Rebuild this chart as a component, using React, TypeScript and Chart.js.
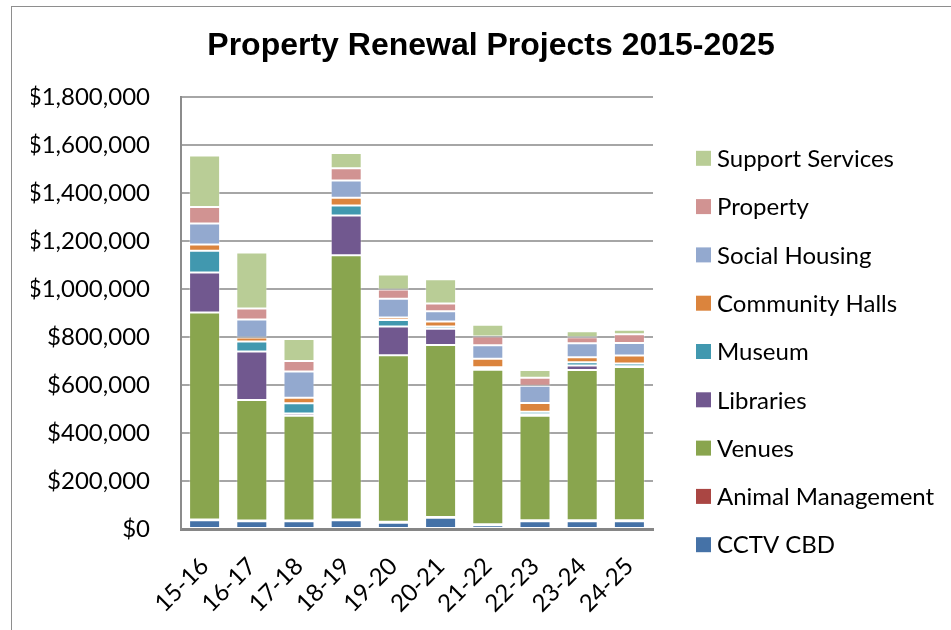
import React, { useEffect, useRef } from "react";
import { Chart, registerables } from "chart.js";

Chart.register(...registerables);

const categories = ["15-16", "16-17", "17-18", "18-19", "19-20", "20-21", "21-22", "22-23", "23-24", "24-25"];
const cctvCbd = [36000, 32000, 32000, 36000, 26000, 47000, 16000, 32000, 32000, 32000];
const animalManagement = [4000, 3000, 3000, 4000, 4000, 3000, 4000, 4000, 4000, 4000];
const venues = [863000, 503000, 437000, 1102000, 695000, 717000, 644000, 436000, 627000, 640000];
const libraries = [167000, 202000, 10000, 165000, 120000, 68000, 2000, 7000, 19000, 3000];
const museum = [90000, 42000, 42000, 42000, 27000, 10000, 9000, 10000, 13000, 11000];
const communityHalls = [26000, 17000, 23000, 33000, 10000, 20000, 35000, 37000, 21000, 34000];
const socialHousing = [88000, 75000, 110000, 71000, 78000, 43000, 56000, 71000, 59000, 52000];
const property = [69000, 46000, 44000, 52000, 39000, 32000, 37000, 34000, 25000, 36000];
const supportServices = [215000, 233000, 91000, 63000, 62000, 102000, 49000, 32000, 25000, 19000];

const yMax = 1800000;
const yStep = 200000;
const title = "Property Renewal Projects 2015-2025";

const seriesNames = [
  "CCTV CBD",
  "Animal Management",
  "Venues",
  "Libraries",
  "Museum",
  "Community Halls",
  "Social Housing",
  "Property",
  "Support Services",
];
const seriesValues = [cctvCbd, animalManagement, venues, libraries, museum, communityHalls, socialHousing, property, supportServices];
const seriesColors = ["#4572A7", "#AA4643", "#89A54E", "#71588F", "#4198AF", "#DB843D", "#93A9CF", "#D19392", "#B9CD96"];

const FONT = "Lato, 'Noto Sans', sans-serif";
const FONT_SIZE = 24;

const legendPlugin = {
  id: "customLegend",
  afterDraw(chart: any) {
    const ctx = chart.ctx;
    const ds = chart.data.datasets;
    ctx.save();
    ctx.font = `${FONT_SIZE}px ${FONT}`;
    ctx.textBaseline = "middle";
    ctx.textAlign = "left";
    for (let i = 0; i < ds.length; i++) {
      const d = ds[ds.length - 1 - i];
      const y = 158.3 + i * 48.3;
      ctx.fillStyle = d.backgroundColor;
      ctx.fillRect(696, y - 7.5, 15, 15);
      ctx.fillStyle = "#000";
      ctx.fillText(d.label, 717, y + 1);
    }
    ctx.restore();
  },
};

export default function App() {
  const ref = useRef<HTMLCanvasElement | null>(null);
  useEffect(() => {
    if (!ref.current) return;
    const chart = new Chart(ref.current, {
      type: "bar",
      data: {
        labels: categories,
        datasets: seriesNames.map((name, i) => ({
          label: name,
          data: seriesValues[i],
          backgroundColor: seriesColors[i],
          borderColor: "rgba(255,255,255,0.3)",
          borderWidth: 1,
          borderSkipped: false,
          categoryPercentage: 1,
          barPercentage: 0.657,
        })),
      },
      options: {
        responsive: false,
        animation: false,
        devicePixelRatio: 1,
        layout: { padding: { left: 31, right: 0, top: 0, bottom: 0 } },
        plugins: {
          legend: { display: false },
          tooltip: { enabled: false },
          title: {
            display: true,
            text: title,
            color: "#000",
            font: { family: "'Liberation Sans', Arial, sans-serif", size: 32, weight: "bold", lineHeight: 1.2 },
            padding: { top: 27, bottom: 32 },
          },
        },
        scales: {
          x: {
            stacked: true,
            grid: { display: false, drawTicks: false },
            border: { display: true, color: "#868686", width: 3 },
            ticks: {
              color: "#000",
              font: { family: FONT, size: FONT_SIZE },
              maxRotation: 45,
              minRotation: 45,
              padding: 23,
            },
            afterFit: (s: any) => {
              s.height = 101;
            },
          },
          y: {
            stacked: true,
            min: 0,
            max: yMax,
            grid: { color: "#a6a6a6", lineWidth: 2, drawTicks: false },
            border: { display: true, color: "#8c8c8c", width: 2 },
            ticks: {
              stepSize: yStep,
              color: "#000",
              padding: 31,
              font: { family: FONT, size: FONT_SIZE },
              callback: (v: any) => "$" + Number(v).toLocaleString("en-US"),
            },
            afterFit: (s: any) => {
              s.width = 150;
            },
          },
          yRight: {
            position: "right",
            display: true,
            grid: { display: false, drawTicks: false },
            border: { display: false },
            ticks: { display: false },
            afterFit: (s: any) => {
              s.width = 298;
            },
          },
        },
      },
      plugins: [legendPlugin],
    } as any);
    return () => chart.destroy();
  }, []);

  return (
    <div style={{ position: "fixed", left: 0, top: 0, width: 951, height: 630, overflow: "hidden", background: "#fff" }}>
      <div
        style={{
          position: "absolute",
          left: 11,
          top: 6,
          width: 1000,
          height: 700,
          border: "1.5px solid #8e8e8e",
          boxSizing: "border-box",
        }}
      />
      <canvas ref={ref} width={951} height={630} style={{ position: "absolute", left: 0, top: 0 }} />
    </div>
  );
}
